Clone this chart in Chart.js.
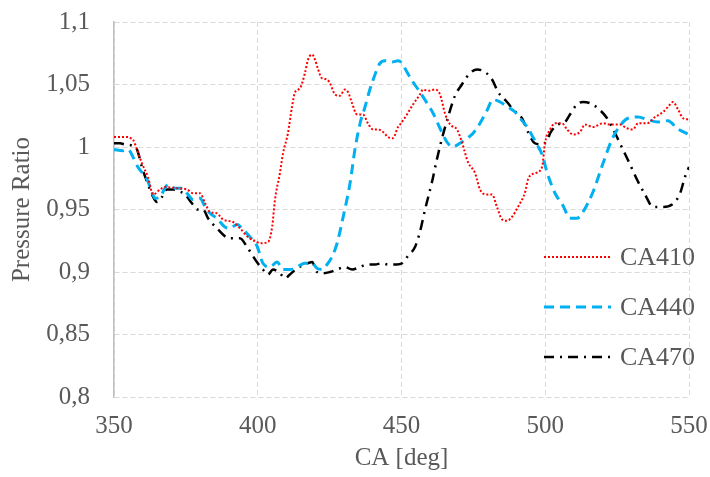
<!DOCTYPE html>
<html>
<head>
<meta charset="utf-8">
<script src="https://cdn.jsdelivr.net/npm/chart.js@4.4.1/dist/chart.umd.min.js"></script>
<style>
  html, body { margin: 0; padding: 0; background: #fff; }
  #wrap { width: 710px; height: 477px; }
</style>
</head>
<body>
<div id="wrap"><canvas id="pressure-chart" width="710" height="477"></canvas></div>
<script>
// crank angle [deg] and pressure ratio for each injection timing
const ca410Deg = [350.0, 351.7, 353.5, 354.9, 355.9, 356.6, 358.0, 359.7, 361.8, 363.6,
  366.0, 367.7, 371.9, 375.4, 377.5, 379.9, 381.7, 383.4, 385.8, 387.9,
  391.4, 393.8, 396.6, 399.7, 400.8, 403.6, 405.0, 406.0, 407.7, 408.8,
  410.5, 411.9, 413.0, 414.7, 416.4, 417.5, 418.9, 419.9, 421.0, 422.3,
  424.1, 425.1, 426.9, 428.6, 430.3, 431.4, 432.8, 434.5, 436.6, 438.3,
  440.1, 441.8, 443.6, 445.3, 447.0, 448.8, 449.5, 451.9, 454.0, 456.4,
  457.5, 459.2, 461.7, 463.4, 465.1, 466.9, 469.3, 471.0, 473.1, 475.6,
  477.3, 479.7, 481.5, 483.2, 485.0, 486.7, 488.4, 490.5, 493.0, 494.0,
  496.4, 498.9, 499.9, 501.7, 503.4, 505.8, 507.6, 509.7, 512.1, 513.8,
  516.6, 520.1, 522.5, 526.0, 528.4, 530.5, 532.3, 535.4, 538.2, 541.0,
  543.4, 544.4, 546.2, 547.9, 550.0];
const ca410 = [1.008, 1.008, 1.008, 1.008, 1.007, 1.006, 0.998, 0.987, 0.976, 0.962,
  0.966, 0.968, 0.967, 0.966, 0.963, 0.963, 0.955, 0.948, 0.947, 0.942,
  0.940, 0.935, 0.928, 0.924, 0.923, 0.924, 0.936, 0.958, 0.979, 0.995,
  1.011, 1.032, 1.044, 1.047, 1.059, 1.070, 1.074, 1.070, 1.062, 1.055,
  1.054, 1.051, 1.042, 1.041, 1.046, 1.044, 1.035, 1.026, 1.026, 1.019,
  1.014, 1.014, 1.012, 1.008, 1.007, 1.016, 1.018, 1.026, 1.034, 1.042,
  1.046, 1.045, 1.046, 1.042, 1.027, 1.018, 1.014, 1.004, 0.988, 0.979,
  0.966, 0.962, 0.962, 0.952, 0.942, 0.941, 0.944, 0.952, 0.964, 0.974,
  0.979, 0.984, 1.003, 1.014, 1.019, 1.019, 1.014, 1.010, 1.012, 1.018,
  1.016, 1.019, 1.018, 1.018, 1.015, 1.014, 1.019, 1.019, 1.024, 1.028,
  1.034, 1.036, 1.030, 1.023, 1.022];

const ca440Deg = [350.0, 353.1, 354.9, 356.6, 358.3, 361.5, 363.2, 364.3, 366.0, 367.7,
  368.8, 371.2, 373.7, 375.4, 377.5, 379.9, 381.7, 383.4, 385.8, 388.6,
  390.3, 392.8, 394.9, 397.3, 399.7, 401.8, 404.3, 406.7, 408.8, 411.2,
  413.7, 416.4, 418.9, 420.6, 422.3, 424.1, 425.8, 427.6, 429.7, 432.1,
  433.8, 435.6, 437.3, 439.0, 440.8, 442.5, 444.3, 446.7, 448.8, 450.2,
  451.9, 454.0, 456.4, 458.9, 461.0, 463.4, 465.8, 467.9, 470.3, 472.8,
  474.9, 477.3, 479.7, 481.8, 484.3, 487.0, 489.5, 491.2, 493.7, 495.7,
  497.1, 498.9, 500.6, 503.4, 506.2, 508.6, 511.0, 513.1, 516.6, 520.1,
  523.2, 526.0, 528.8, 532.3, 535.4, 539.2, 542.7, 545.8, 550.0];
const ca440 = [0.998, 0.997, 0.998, 0.992, 0.984, 0.974, 0.964, 0.959, 0.960, 0.967,
  0.970, 0.967, 0.967, 0.963, 0.958, 0.959, 0.952, 0.947, 0.943, 0.936,
  0.935, 0.938, 0.934, 0.928, 0.921, 0.907, 0.904, 0.908, 0.902, 0.902,
  0.904, 0.907, 0.907, 0.903, 0.902, 0.906, 0.912, 0.923, 0.944, 0.971,
  0.998, 1.019, 1.032, 1.046, 1.058, 1.067, 1.069, 1.068, 1.069, 1.067,
  1.060, 1.052, 1.044, 1.035, 1.027, 1.015, 1.004, 1.000, 1.003, 1.007,
  1.011, 1.019, 1.029, 1.038, 1.036, 1.032, 1.028, 1.023, 1.016, 1.008,
  1.002, 0.994, 0.980, 0.963, 0.953, 0.943, 0.943, 0.948, 0.964, 0.987,
  1.006, 1.017, 1.023, 1.024, 1.022, 1.020, 1.021, 1.015, 1.010];

const ca470Deg = [350.0, 352.1, 353.8, 356.3, 358.0, 359.7, 361.5, 363.2, 365.0, 366.7,
  368.4, 370.5, 372.3, 374.7, 377.1, 378.9, 381.0, 382.7, 385.8, 387.9,
  389.7, 392.1, 393.8, 396.3, 398.0, 399.7, 401.8, 403.6, 405.3, 407.7,
  409.5, 411.2, 413.7, 416.4, 418.9, 420.6, 422.7, 425.1, 427.6, 430.3,
  432.8, 435.6, 438.0, 440.8, 443.2, 445.3, 448.4, 450.2, 452.3, 454.7,
  456.4, 458.2, 460.6, 462.3, 464.1, 466.2, 468.6, 471.0, 473.8, 476.3,
  479.0, 481.5, 483.6, 486.7, 488.8, 491.9, 494.0, 496.4, 498.9, 501.0,
  501.7, 504.4, 506.9, 508.6, 511.0, 513.1, 515.6, 518.3, 521.5, 524.3,
  527.0, 529.5, 531.9, 534.7, 537.5, 540.6, 544.1, 546.9, 548.6, 550.0];
const ca470 = [1.003, 1.003, 1.002, 1.001, 0.998, 0.984, 0.972, 0.962, 0.956, 0.960,
  0.966, 0.966, 0.965, 0.962, 0.955, 0.950, 0.950, 0.943, 0.935, 0.930,
  0.927, 0.927, 0.927, 0.920, 0.914, 0.908, 0.902, 0.898, 0.902, 0.899,
  0.895, 0.898, 0.903, 0.906, 0.908, 0.900, 0.899, 0.900, 0.902, 0.904,
  0.902, 0.904, 0.906, 0.906, 0.907, 0.906, 0.906, 0.907, 0.913, 0.920,
  0.932, 0.950, 0.972, 0.990, 1.007, 1.024, 1.041, 1.050, 1.059, 1.062,
  1.060, 1.054, 1.044, 1.036, 1.030, 1.023, 1.012, 1.003, 1.002, 1.007,
  1.011, 1.018, 1.020, 1.026, 1.034, 1.036, 1.035, 1.031, 1.023, 1.011,
  0.998, 0.986, 0.974, 0.962, 0.952, 0.952, 0.954, 0.963, 0.976, 0.984];

const seriesNames = ['CA410', 'CA440', 'CA470'];
const xTicks = [350, 400, 450, 500, 550];
const xTickLabels = ['350', '400', '450', '500', '550'];
const yTicks = [0.8, 0.85, 0.9, 0.95, 1, 1.05, 1.1];
const yTickLabels = ['0,8', '0,85', '0,9', '0,95', '1', '1,05', '1,1'];

const FONT = '"Liberation Serif", "Times New Roman", serif';
const TEXT_GRAY = '#595959';

const toPoints = (xs, ys) => xs.map((x, i) => ({ x: x, y: ys[i] }));

// legend sits inside the plot, to the right, one row per series
const sideLegend = {
  id: 'sideLegend',
  afterDraw(chart) {
    const ctx = chart.ctx;
    const area = chart.chartArea;
    const rows = [257, 307, 357];
    chart.data.datasets.forEach((ds, i) => {
      const y = rows[i];
      ctx.save();
      ctx.strokeStyle = ds.borderColor;
      ctx.lineWidth = ds.borderWidth;
      ctx.setLineDash(ds.borderDash);
      ctx.beginPath();
      ctx.moveTo(area.right - 145, y);
      ctx.lineTo(area.right - 78, y);
      ctx.stroke();
      ctx.setLineDash([]);
      ctx.fillStyle = TEXT_GRAY;
      ctx.font = '26px ' + FONT;
      ctx.textBaseline = 'middle';
      ctx.fillText(ds.label, area.right - 69, y + 1);
      ctx.restore();
    });
  }
};

const chart = new Chart(document.getElementById('pressure-chart'), {
  type: 'line',
  data: {
    datasets: [{
        label: seriesNames[0],
        data: toPoints(ca410Deg, ca410),
        borderColor: '#ff0000',
        borderWidth: 2,
        borderDash: [2, 2],
        pointRadius: 0,
        cubicInterpolationMode: 'monotone',
        fill: false
      }, {
        label: seriesNames[1],
        data: toPoints(ca440Deg, ca440),
        borderColor: '#00b0f0',
        borderWidth: 3,
        borderDash: [10, 6],
        pointRadius: 0,
        cubicInterpolationMode: 'monotone',
        fill: false
      }, {
        label: seriesNames[2],
        data: toPoints(ca470Deg, ca470),
        borderColor: '#000000',
        borderWidth: 2.5,
        borderDash: [10, 6, 2, 6],
        pointRadius: 0,
        cubicInterpolationMode: 'monotone',
        fill: false
      }
    ]
  },
  options: {
    responsive: false,
    animation: false,
    layout: { padding: { top: 22, right: 21, left: 0, bottom: 0 } },
    plugins: {
      legend: { display: false },
      tooltip: { enabled: false }
    },
    scales: {
      x: {
        type: 'linear',
        min: 350,
        max: 550,
        afterBuildTicks: (scale) => { scale.ticks = xTicks.map(v => ({ value: v })); },
        afterFit: (scale) => {
          scale.height = 80;
          scale.paddingLeft = 0;
          scale.paddingRight = 0;
        },
        ticks: {
          callback: (v, i) => xTickLabels[i],
          color: TEXT_GRAY,
          font: { family: FONT, size: 25 },
          padding: 14,
          maxRotation: 0
        },
        grid: { color: '#d9d9d9', lineWidth: 1, drawTicks: false },
        border: { display: false, dash: [5, 3] },
        title: {
          display: true,
          text: 'CA [deg]',
          color: TEXT_GRAY,
          font: { family: FONT, size: 25 },
          padding: { top: 0, bottom: 4 }
        }
      },
      y: {
        min: 0.8,
        max: 1.1,
        afterBuildTicks: (scale) => { scale.ticks = yTicks.map(v => ({ value: v })); },
        afterFit: (scale) => {
          scale.width = 114;
          scale.paddingTop = 0;
          scale.paddingBottom = 0;
        },
        ticks: {
          callback: (v, i) => yTickLabels[i],
          color: TEXT_GRAY,
          font: { family: FONT, size: 25 },
          padding: 24
        },
        grid: { color: '#d9d9d9', lineWidth: 1, drawTicks: false },
        border: { display: true, color: '#bfbfbf', width: 1.5, dash: [5, 3] },
        title: {
          display: true,
          text: 'Pressure Ratio',
          color: TEXT_GRAY,
          font: { family: FONT, size: 25 },
          padding: { top: 7, bottom: 0 }
        }
      }
    }
  },
  plugins: [sideLegend]
});
</script>
</body>
</html>
